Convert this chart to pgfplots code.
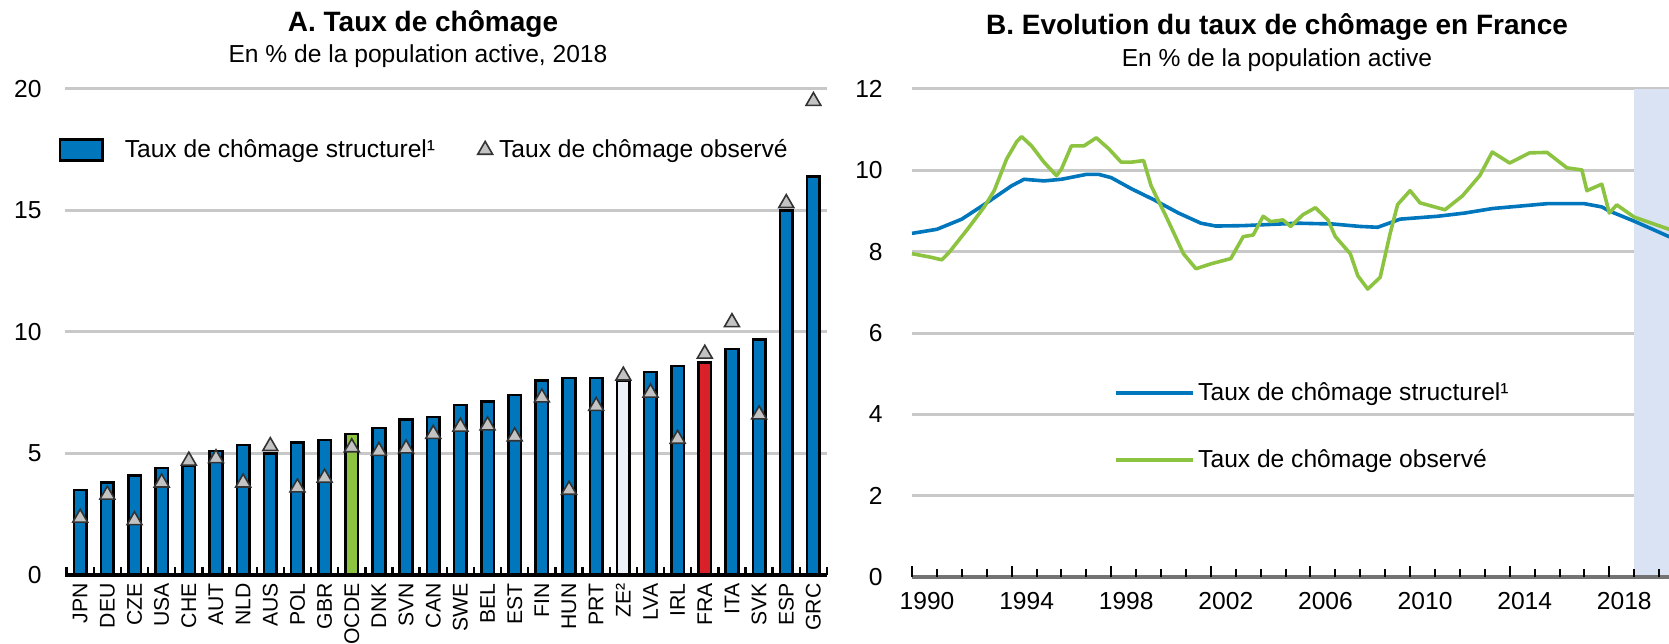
\documentclass[border=0pt]{standalone}
\usepackage{fontspec}
\setmainfont{Liberation Sans}
\usepackage{pgfplots}
\pgfplotsset{compat=1.18}

\definecolor{oblue}{RGB}{0,118,189}
\definecolor{ogreen}{RGB}{140,195,65}
\definecolor{ored}{RGB}{218,32,40}
\definecolor{oze}{RGB}{236,240,248}
\definecolor{ogrid}{RGB}{200,200,200}
\definecolor{oshade}{RGB}{218,227,243}
\definecolor{omark}{RGB}{195,195,195}

\pgfdeclarelayer{shade}
\pgfplotsset{
  layers/shadeset/.define layer set={axis background,axis grid,shade,axis ticks,axis lines,axis tick labels,pre main,main,axis descriptions,axis foreground}{/pgfplots/layers/standard},
}

\newcommand{\txt}{\fontsize{12.3}{14.5}\selectfont}

\begin{document}
\begin{tikzpicture}

% titles
\node[anchor=base, font=\bfseries\fontsize{14}{16}\selectfont] at (211.5pt,305.5pt) {A. Taux de chômage};
\node[anchor=base, font=\txt] at (209pt,290pt) {En \% de la population active, 2018};
\node[anchor=base, font=\bfseries\fontsize{14}{16}\selectfont] at (638.5pt,304pt) {B. Evolution du taux de chômage en France};
\node[anchor=base, font=\txt] at (638.5pt,288pt) {En \% de la population active};

% panel A
\begin{axis}[
  set layers=shadeset,
  at={(32.5pt,34pt)}, anchor=south west,
  width=381pt, height=243pt, scale only axis, clip=false,
  xmin=-0.56, xmax=27.5, ymin=0, ymax=20,
  ytick={0,5,...,20},
  ymajorgrids, grid style={ogrid, line width=1.5pt},
  axis x line*=bottom, axis y line*=left,
  y axis line style={draw=none},
  xtick={0,...,27},
  xticklabels={JPN,DEU,CZE,USA,CHE,AUT,NLD,AUS,POL,GBR,OCDE,DNK,SVN,CAN,SWE,BEL,EST,FIN,HUN,PRT,ZE²,LVA,IRL,FRA,ITA,SVK,ESP,GRC},
  major tick length=0pt, tick align=inside,
  tick label style={font=\txt},
  /pgf/number format/assume math mode=true,
  xticklabel style={font=\fontsize{10.6}{12}\selectfont, yshift=-4pt, rotate=90, anchor=east, inner sep=0pt},
  yticklabel style={anchor=east, inner sep=0pt, xshift=-11.5pt},
  legend columns=2,
  legend style={at={(-0.0088,0.8745)}, anchor=west, draw=none, fill=none,
    inner sep=0pt, font=\txt, cells={anchor=west}, nodes={inner sep=0pt}},
]
\addplot[ybar, bar width=6.3pt, fill=oblue, draw=black, line width=1.3pt,
  legend image code/.code={\draw[fill=oblue, draw=black, line width=1.3pt] (0pt,-5.35pt) rectangle (21.2pt,5.35pt); \path[draw=none, fill=none] (32.4pt,0pt);}]
  coordinates {(0,3.5) (1,3.8) (2,4.1) (3,4.4) (4,4.5) (5,5.1) (6,5.35) (7,5.0) (8,5.45) (9,5.55)
    (11,6.05) (12,6.4) (13,6.5) (14,7.0) (15,7.15) (16,7.4) (17,8.0) (18,8.1) (19,8.1)
    (21,8.35) (22,8.6) (24,9.3) (25,9.7) (26,15.0) (27,16.4)};
\addlegendentry{Taux de chômage structurel¹}
\addplot[ybar, bar width=6.3pt, fill=ogreen, draw=black, line width=1.3pt, forget plot]
  coordinates {(10,5.8)};
\addplot[ybar, bar width=6.3pt, fill=oze, draw=black, line width=1.3pt, forget plot]
  coordinates {(20,8.0)};
\addplot[ybar, bar width=6.3pt, fill=ored, draw=black, line width=1.3pt, forget plot]
  coordinates {(23,8.75)};
% axis line and separators between the bars
\addplot[black, line width=1.6pt, forget plot] coordinates {(-0.56,0) (27.5,0)};
\addplot[ycomb, black, line width=1.2pt, forget plot] coordinates {
  (-0.5,0.33) (0.5,0.33) (1.5,0.33) (2.5,0.33) (3.5,0.33) (4.5,0.33) (5.5,0.33) (6.5,0.33)
  (7.5,0.33) (8.5,0.33) (9.5,0.33) (10.5,0.33) (11.5,0.33) (12.5,0.33) (13.5,0.33) (14.5,0.33)
  (15.5,0.33) (16.5,0.33) (17.5,0.33) (18.5,0.33) (19.5,0.33) (20.5,0.33) (21.5,0.33) (22.5,0.33)
  (23.5,0.33) (24.5,0.33) (25.5,0.33) (26.5,0.33) (27.5,0.33)};
\addplot[only marks, mark=triangle*, mark size=4.3pt,
  mark options={fill=omark, draw=black!80, line width=0.8pt},
  legend image code/.code={\path[draw=none, fill=none] (0pt,0pt) (32pt,0pt);
    \draw[mark repeat=2, mark phase=2, only marks, mark=triangle*, mark size=4.3pt,
    mark options={fill=omark, draw=black!80, line width=0.8pt}] plot coordinates {(0pt,0pt) (25pt,0pt) (32pt,0pt)};}]
  coordinates {(0,2.35) (1,3.3) (2,2.25) (3,3.8) (4,4.7) (5,4.8) (6,3.8) (7,5.3) (8,3.6) (9,4.0)
    (10,5.25) (11,5.1) (12,5.2) (13,5.8) (14,6.1) (15,6.15) (16,5.7) (17,7.3) (18,3.5) (19,6.95)
    (20,8.2) (21,7.5) (22,5.6) (23,9.1) (24,10.4) (25,6.6) (26,15.3) (27,19.5)};
\addlegendentry{Taux de chômage observé}
\end{axis}

% panel B
\begin{axis}[
  set layers=shadeset,
  at={(456pt,33pt)}, anchor=south west,
  width=386pt, height=244pt, scale only axis, clip=false,
  xmin=1990, xmax=2021, ymin=0, ymax=12,
  ytick={0,2,...,12},
  ymajorgrids, grid style={ogrid, line width=1.5pt},
  axis x line*=bottom, axis y line*=left,
  y axis line style={draw=none},
  xtick={1990,1994,...,2018},
  major tick length=0pt, tick align=inside,
  tick label style={font=\txt},
  /pgf/number format/assume math mode=true,
  xticklabel style={/pgf/number format/1000 sep={}, anchor=north, inner sep=0pt, xshift=7.5pt, yshift=-7.5pt},
  yticklabel style={anchor=east, inner sep=0pt, xshift=-14.5pt},
  legend style={at={(0.2617,0.3084)}, anchor=west, draw=none, fill=none,
    inner sep=0pt, font=\txt, cells={anchor=west}, nodes={inner sep=0pt}, row sep=23pt},
]
\addplot[draw=none, fill=oshade, on layer=shade, forget plot]
  coordinates {(2019,12) (2022,12)} \closedcycle;
% axis line and yearly ticks
\addplot[black!55, line width=2pt, forget plot] coordinates {(1990,0) (2022,0)};
\addplot[ycomb, black, line width=1pt, forget plot] coordinates {
  (1991,0.2) (1992,0.2) (1993,0.2) (1995,0.2) (1996,0.2) (1997,0.2) (1999,0.2) (2000,0.2)
  (2001,0.2) (2003,0.2) (2004,0.2) (2005,0.2) (2007,0.2) (2008,0.2) (2009,0.2) (2011,0.2)
  (2012,0.2) (2013,0.2) (2015,0.2) (2016,0.2) (2017,0.2) (2019,0.2) (2020,0.2) (2021,0.2)};
\addplot[ycomb, black, line width=1pt, forget plot] coordinates {
  (1990,0.28) (1994,0.28) (1998,0.28) (2002,0.28) (2006,0.28) (2010,0.28) (2014,0.28) (2018,0.28)};
\addplot[oblue, line width=1.8pt, line join=round,
  legend image code/.code={\draw[oblue, line width=1.8pt] (0pt,0pt) -- (38.5pt,0pt); \path[draw=none] (41pt,0pt);}]
  coordinates {(1990.0,8.45) (1991.0,8.55) (1992.0,8.8) (1993.0,9.2) (1994.0,9.62) (1994.5,9.78)
    (1995.3,9.74) (1996.0,9.78) (1997.0,9.9) (1997.5,9.9) (1998.0,9.82) (1998.8,9.55) (1999.7,9.28)
    (2000.7,8.95) (2001.6,8.7) (2002.2,8.63) (2003.3,8.64) (2005.5,8.7) (2006.9,8.68) (2008.0,8.62)
    (2008.7,8.6) (2009.6,8.8) (2011.1,8.87) (2012.2,8.95) (2013.3,9.06) (2014.4,9.12) (2015.5,9.18)
    (2017.0,9.18) (2017.7,9.1) (2018.0,9.0) (2019.0,8.75) (2020.4,8.37) (2021.0,8.2)};
\addlegendentry{Taux de chômage structurel¹}
\addplot[ogreen, line width=1.8pt, line join=round,
  legend image code/.code={\draw[ogreen, line width=1.8pt] (0pt,0pt) -- (38.5pt,0pt); \path[draw=none] (41pt,0pt);}]
  coordinates {(1990.0,7.95) (1990.7,7.87) (1991.2,7.8) (1991.5,7.99) (1992.2,8.53) (1992.9,9.1)
    (1993.3,9.5) (1993.8,10.28) (1994.2,10.7) (1994.4,10.83) (1994.8,10.6) (1995.3,10.2) (1995.8,9.87)
    (1996.0,10.03) (1996.4,10.6) (1996.9,10.6) (1997.4,10.8) (1997.9,10.53) (1998.4,10.2) (1998.8,10.2)
    (1999.3,10.24) (1999.6,9.62) (2000.2,8.87) (2000.9,7.95) (2001.4,7.58) (2002.0,7.7) (2002.8,7.83)
    (2003.3,8.37) (2003.7,8.41) (2004.1,8.87) (2004.4,8.74) (2004.9,8.78) (2005.2,8.62) (2005.7,8.91)
    (2006.2,9.08) (2006.7,8.78) (2007.0,8.37) (2007.6,7.95) (2007.9,7.41) (2008.3,7.08) (2008.8,7.37)
    (2009.2,8.45) (2009.5,9.16) (2010.0,9.5) (2010.4,9.2) (2011.4,9.03) (2012.1,9.37) (2012.8,9.87)
    (2013.3,10.45) (2014.0,10.18) (2014.8,10.43) (2015.5,10.44) (2016.3,10.06) (2016.9,10.01)
    (2017.1,9.5) (2017.7,9.66) (2018.0,8.95) (2018.3,9.15) (2019.0,8.85) (2020.4,8.55) (2021.0,8.45)};
\addlegendentry{Taux de chômage observé}
\end{axis}

\pgfresetboundingbox
\useasboundingbox (0pt,0pt) rectangle (834.5pt,321.5pt);
\end{tikzpicture}
\end{document}
